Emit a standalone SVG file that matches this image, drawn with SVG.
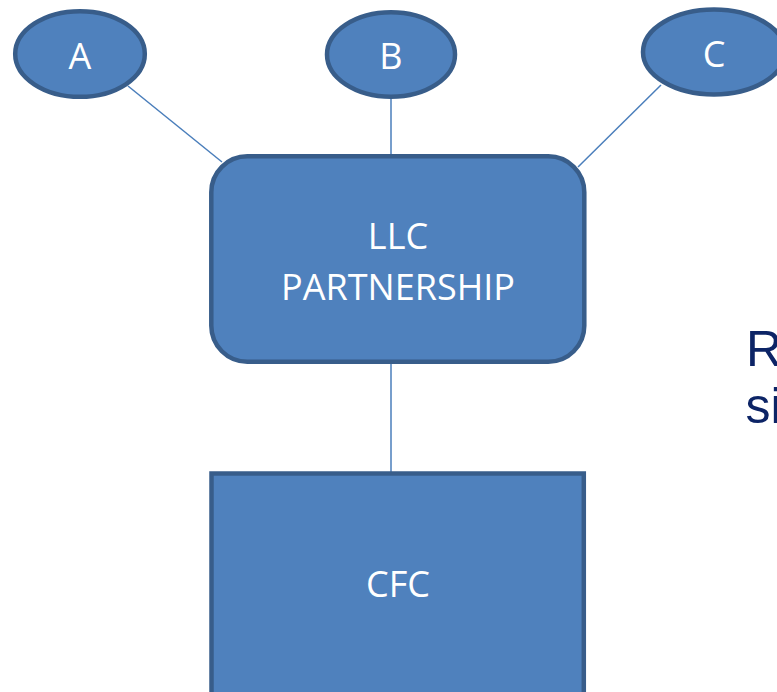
<svg xmlns="http://www.w3.org/2000/svg" width="777" height="692" viewBox="0 0 777 692">
<style>
.node{fill:#4F81BD;stroke:#385D8A;stroke-width:4.5}
.lbl{font-family:"Open Sans","Liberation Sans",sans-serif;font-size:36px;fill:#FFFFFF;text-anchor:middle}
.conn{stroke:#4A7EBB;stroke-width:1.5;fill:none}
.side{font-family:"Liberation Sans",Arial,sans-serif;font-size:50px;fill:#0C2466}
</style>
<rect width="777" height="692" fill="#FFFFFF"/>
<g id="connectors">
<line class="conn" x1="128" y1="86" x2="222" y2="162"/>
<line class="conn" x1="391" y1="98" x2="391" y2="157"/>
<line class="conn" x1="661" y1="85" x2="578" y2="167"/>
<line class="conn" x1="391" y1="363" x2="391" y2="473"/>
</g>
<g id="node-a">
<ellipse class="node" cx="80" cy="54" rx="64.8" ry="42.8"/>
<text class="lbl" x="80" y="69">A</text>
</g>
<g id="node-b">
<ellipse class="node" cx="391" cy="54.5" rx="64" ry="42.3"/>
<text class="lbl" x="391" y="69">B</text>
</g>
<g id="node-c">
<ellipse class="node" cx="714" cy="52" rx="71" ry="42.5"/>
<text class="lbl" x="714" y="67">C</text>
</g>
<g id="node-llc">
<rect class="node" x="211.3" y="156.3" width="373" height="205.5" rx="36" ry="36"/>
<text class="lbl" x="398" y="249">LLC</text>
<text class="lbl" x="398" y="300">PARTNERSHIP</text>
</g>
<g id="node-cfc">
<rect class="node" x="211.5" y="473.5" width="372.3" height="240"/>
<text class="lbl" x="398" y="597">CFC</text>
</g>
<g id="side-text">
<text class="side" x="746" y="366">R</text>
<text class="side" x="745.5" y="423">si</text>
</g>
</svg>
